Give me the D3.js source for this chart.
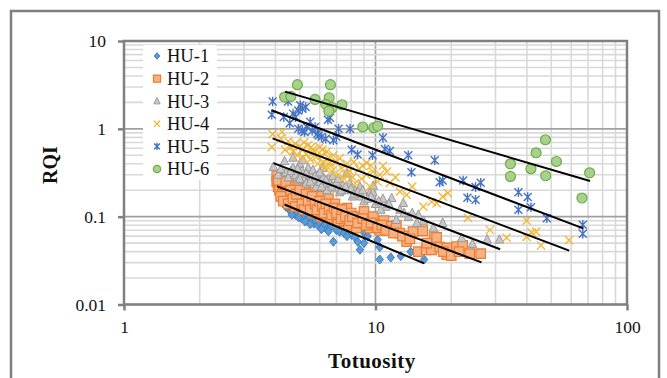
<!DOCTYPE html>
<html><head><meta charset="utf-8">
<script src="https://cdn.jsdelivr.net/npm/d3@7"></script>
<style>body{margin:0;background:#fff}svg{display:block}</style>
</head><body>
<svg id="c" width="667" height="378"></svg>
<script>
const seriesNames = ["HU-1","HU-2","HU-3","HU-4","HU-5","HU-6"];
const hu1 = [[4.35,0.144],[4.4,0.13],[4.5,0.125],[4.6,0.115],[4.7,0.12],[4.8,0.105],[4.9,0.11],[5.0,0.1],[5.1,0.095],[5.2,0.105],[5.3,0.09],[5.4,0.095],[5.57,0.088],[5.7,0.083],[5.8,0.09],[5.9,0.08],[6.0,0.085],[6.18,0.077],[6.3,0.08],[6.4,0.072],[6.6,0.075],[6.8,0.0518],[7.0,0.07],[7.2,0.0675],[7.5,0.065],[8.04,0.062],[8.3,0.058],[8.5,0.0518],[8.67,0.042],[8.94,0.0675],[9.3,0.06],[10.2,0.0545],[10.4,0.045],[10.4,0.0325],[11.5,0.0343],[12.6,0.0356],[13.8,0.0398],[15.6,0.0325],[4.55,0.135],[4.65,0.105],[4.95,0.098],[5.25,0.088],[5.5,0.082],[6.1,0.072],[6.5,0.068],[7.7,0.06],[9.0,0.05]];
const hu2 = [[4.05,0.29],[4.05,0.25],[4.1,0.22],[4.15,0.2],[4.2,0.27],[4.25,0.18],[4.3,0.23],[4.35,0.16],[4.4,0.21],[4.45,0.19],[4.5,0.25],[4.55,0.17],[4.6,0.15],[4.65,0.22],[4.7,0.19],[4.75,0.14],[4.8,0.2],[4.9,0.17],[4.95,0.23],[5.0,0.15],[5.05,0.13],[5.1,0.19],[5.2,0.16],[5.25,0.21],[5.3,0.14],[5.4,0.12],[5.45,0.18],[5.5,0.15],[5.6,0.13],[5.65,0.19],[5.7,0.11],[5.8,0.16],[5.9,0.14],[6.0,0.12],[6.05,0.17],[6.1,0.1],[6.2,0.15],[6.3,0.13],[6.4,0.11],[6.5,0.16],[6.6,0.095],[6.7,0.13],[6.8,0.115],[6.9,0.14],[7.0,0.1],[7.1,0.088],[7.2,0.12],[7.4,0.105],[7.5,0.09],[7.7,0.125],[7.8,0.08],[8.0,0.11],[8.2,0.095],[8.4,0.074],[8.6,0.1],[8.8,0.085],[9.0,0.115],[9.3,0.09],[9.5,0.074],[9.8,0.1],[10.0,0.082],[10.4,0.07],[10.8,0.09],[11.3,0.078],[12.1,0.08],[12.5,0.065],[13.3,0.052],[14.1,0.0675],[14.8,0.04],[15.4,0.069],[15.9,0.042],[16.7,0.042],[17.1,0.059],[17.5,0.058],[18.0,0.045],[19.2,0.044],[19.2,0.037],[21.0,0.0455],[22.2,0.047],[23.7,0.038],[26.2,0.038],[4.1,0.26],[4.2,0.17],[4.3,0.15],[4.4,0.25],[4.5,0.14],[4.6,0.2],[4.7,0.16],[4.8,0.13],[4.85,0.18],[5.0,0.2],[5.1,0.14],[5.2,0.12],[5.3,0.18],[5.4,0.15],[5.5,0.12],[5.6,0.17],[5.75,0.14],[5.85,0.12],[6.0,0.15],[6.15,0.13],[6.25,0.11],[6.35,0.14],[6.55,0.12],[6.7,0.105],[6.85,0.125],[7.0,0.11],[7.3,0.095],[7.35,0.12],[7.6,0.1],[7.9,0.09],[8.1,0.1],[8.5,0.085],[8.9,0.095],[9.2,0.08],[9.6,0.085],[10.2,0.075],[10.6,0.08],[11.0,0.07],[11.8,0.065],[12.8,0.06],[13.7,0.056],[16.0,0.05],[18.6,0.04],[20.0,0.036],[21.5,0.04]];
const hu3 = [[3.93,0.37],[4.1,0.3],[4.35,0.43],[4.4,0.32],[4.5,0.28],[4.7,0.47],[4.7,0.36],[4.8,0.3],[4.9,0.26],[5.0,0.4],[5.1,0.33],[5.15,0.44],[5.2,0.28],[5.3,0.24],[5.4,0.36],[5.5,0.3],[5.64,0.34],[5.7,0.26],[5.8,0.22],[5.9,0.3],[6.0,0.25],[6.18,0.36],[6.2,0.28],[6.3,0.22],[6.4,0.2],[6.5,0.27],[6.6,0.24],[6.77,0.29],[6.9,0.21],[7.0,0.25],[7.2,0.19],[7.4,0.23],[7.68,0.31],[7.7,0.2],[7.9,0.24],[8.1,0.17],[8.3,0.2],[8.67,0.22],[8.8,0.17],[9.0,0.15],[9.51,0.19],[9.77,0.19],[9.8,0.226],[10.0,0.14],[10.7,0.16],[11.0,0.13],[11.6,0.163],[12.1,0.092],[12.9,0.143],[13.5,0.1],[14.6,0.085],[14.8,0.105],[18.5,0.085],[22.0,0.057],[24.3,0.049],[27.8,0.055],[31.1,0.055],[4.2,0.35],[4.6,0.33],[4.9,0.35],[5.0,0.27],[5.3,0.31],[5.5,0.25],[5.75,0.29],[6.0,0.32],[6.1,0.22],[6.35,0.26],[6.7,0.22],[7.1,0.27],[7.3,0.2],[7.6,0.22],[8.0,0.21],[8.2,0.18],[8.5,0.19],[8.9,0.2],[9.3,0.16],[9.6,0.17],[10.3,0.15],[10.5,0.12],[11.3,0.14],[12.5,0.12],[13.0,0.11],[14.0,0.11],[15.5,0.09],[17.0,0.075]];
const hu4 = [[3.9,0.87],[3.87,0.62],[4.25,0.92],[4.2,0.78],[4.37,0.576],[4.5,0.72],[4.7,0.55],[4.8,0.68],[4.9,0.5],[5.01,0.63],[5.1,0.58],[5.2,0.7],[5.3,0.52],[5.4,0.65],[5.5,0.45],[5.64,0.576],[5.7,0.55],[5.8,0.48],[5.9,0.4],[6.0,0.62],[6.1,0.5],[6.2,0.42],[6.3,0.36],[6.4,0.55],[6.59,0.41],[6.6,0.38],[6.7,0.33],[6.8,0.5],[7.0,0.42],[7.1,0.3],[7.3,0.36],[7.5,0.27],[7.7,0.4],[7.9,0.33],[8.1,0.28],[8.3,0.24],[8.6,0.35],[8.9,0.38],[9.22,0.41],[9.2,0.3],[9.5,0.22],[9.77,0.326],[10.2,0.25],[10.7,0.38],[11.1,0.326],[11.4,0.242],[12.5,0.193],[13.3,0.177],[14.0,0.22],[15.5,0.13],[16.7,0.148],[17.5,0.142],[18.5,0.169],[19.4,0.185],[23.3,0.097],[28.5,0.0705],[33.2,0.0576],[39.9,0.09],[39.9,0.059],[41.8,0.0657],[43.5,0.0675],[45.5,0.047],[58.8,0.054],[4.6,0.62],[5.15,0.47],[5.55,0.62],[6.15,0.58],[6.5,0.47],[7.2,0.46],[7.6,0.3],[8.2,0.42],[8.8,0.27],[9.6,0.38],[10.4,0.3],[12.0,0.28]];
const hu5 = [[3.9,2.05],[3.87,1.45],[4.49,2.05],[4.32,1.36],[4.56,1.16],[4.7,1.49],[4.81,1.36],[4.93,1.62],[5.02,1.85],[5.12,1.69],[5.28,1.77],[4.93,1.0],[5.12,0.96],[5.22,0.92],[5.33,1.05],[5.5,1.2],[5.6,0.95],[5.75,1.05],[5.87,0.88],[5.94,0.84],[6.1,0.81],[6.34,0.77],[6.47,1.27],[6.59,1.34],[6.8,0.74],[6.99,0.81],[7.13,1.0],[7.92,1.0],[8.04,0.578],[8.49,0.51],[9.73,0.5],[10.7,0.79],[10.9,0.59],[11.4,0.56],[13.5,0.5],[13.9,0.32],[17.2,0.44],[18.0,0.247],[18.5,0.258],[22.3,0.258],[23.2,0.164],[25.0,0.217],[25.0,0.156],[26.2,0.243],[37.0,0.19],[37.0,0.12],[40.3,0.167],[41.5,0.128],[48.0,0.096],[66.7,0.081],[66.7,0.064]];
const hu6 = [[4.35,2.3],[4.61,2.34],[4.89,3.18],[5.75,2.16],[6.62,3.18],[6.54,2.26],[6.34,1.9],[6.72,1.74],[6.52,1.59],[7.36,1.88],[8.9,1.05],[9.84,1.03],[10.2,1.075],[34.4,0.4],[34.4,0.287],[41.5,0.351],[43.5,0.534],[47.4,0.751],[47.5,0.292],[52.4,0.425],[66.2,0.163],[71.0,0.316]];
const seriesData = [hu1,hu2,hu3,hu4,hu5,hu6];
// trend line endpoints (power-law fits, straight on log-log axes)
const trendX = [[4.35,15.6],[4.06,26.4],[3.93,31.3],[3.9,58.9],[3.86,67.0],[4.37,71.3]];
const trendY = [[0.1377,0.0294],[0.221,0.0302],[0.407,0.0425],[0.78,0.041],[1.63,0.0735],[2.65,0.255]];
const xTickLabels = ["1","10","100"];
const yTickLabels = ["0.01","0.1","1","10"];

const svg = d3.select("#c");
const font = "'Liberation Serif', 'DejaVu Serif', serif";
const L=124, R=627, T=41, B=304.5;
const x = d3.scaleLog().domain([1,100]).range([L,R]);
const y = d3.scaleLog().domain([0.01,10]).range([B,T]);

svg.append("rect").attr("x",11).attr("y",11).attr("width",648).attr("height",380)
  .attr("fill","none").attr("stroke","#7f7f7f").attr("stroke-width",2.5);

const g = svg.append("g");
const isMajor = v => Math.abs(Math.log10(v) - Math.round(Math.log10(v))) < 1e-9;
g.selectAll(".vx").data(x.ticks()).join("line")
  .attr("x1",d=>x(d)).attr("x2",d=>x(d)).attr("y1",T).attr("y2",B)
  .attr("stroke",d=>isMajor(d)?"#a0a0a0":"#d9d9d9").attr("stroke-width",1.6);
g.selectAll(".hy").data(y.ticks()).join("line")
  .attr("y1",d=>y(d)).attr("y2",d=>y(d)).attr("x1",L).attr("x2",R)
  .attr("stroke",d=>isMajor(d)?"#a0a0a0":"#d9d9d9").attr("stroke-width",1.6);

svg.append("rect").attr("x",L).attr("y",T).attr("width",R-L).attr("height",B-T)
  .attr("fill","none").attr("stroke","#808080").attr("stroke-width",2.5);

const xAxis = d3.axisBottom(x).tickValues([1,10,100]).tickFormat((d,i)=>xTickLabels[i]).tickSize(6).tickPadding(10);
const yAxis = d3.axisLeft(y).tickValues([0.01,0.1,1,10]).tickFormat((d,i)=>yTickLabels[i]).tickSize(6).tickPadding(12);
const gx = svg.append("g").attr("transform",`translate(0,${B})`).call(xAxis);
const gy = svg.append("g").attr("transform",`translate(${L},0)`).call(yAxis);
[gx,gy].forEach(a=>{
  a.select(".domain").remove();
  a.selectAll(".tick line").attr("stroke","#808080").attr("stroke-width",2.5);
  a.selectAll(".tick text").attr("font-family",font).attr("font-size",17.5).attr("fill","#111");
});

const starSym = {draw(ctx,size){const r=Math.sqrt(size)/2; ctx.moveTo(-r,-r);ctx.lineTo(r,r);ctx.moveTo(-r,r);ctx.lineTo(r,-r);ctx.moveTo(0,-r*1.2);ctx.lineTo(0,r*1.2);}};
const xSym = {draw(ctx,size){const r=Math.sqrt(size)/2; ctx.moveTo(-r,-r);ctx.lineTo(r,r);ctx.moveTo(-r,r);ctx.lineTo(r,-r);}};
const diamondSym = {draw(ctx,size){const r=Math.sqrt(size)/2; ctx.moveTo(0,-r*1.1);ctx.lineTo(r*0.9,0);ctx.lineTo(0,r*1.1);ctx.lineTo(-r*0.9,0);ctx.closePath();}};
const triSym = {draw(ctx,size){const r=Math.sqrt(size)/2; ctx.moveTo(0,-r*1.15);ctx.lineTo(r,r*0.85);ctx.lineTo(-r,r*0.85);ctx.closePath();}};
const styles = [
  {type:diamondSym, size:68, fill:"#5b9bd5", stroke:"#3f7fc0", sw:1},
  {type:d3.symbolSquare, size:92, fill:"#f4b183", stroke:"#ed7d31", sw:1.2},
  {type:triSym, size:72, fill:"#c8c8c8", stroke:"#9a9a9a", sw:1},
  {type:xSym, size:68, fill:"none", stroke:"#f2b632", sw:1.3},
  {type:starSym, size:64, fill:"none", stroke:"#4472c4", sw:1.4},
  {type:d3.symbolCircle, size:78, fill:"#a9d18e", stroke:"#70ad47", sw:1.2}
];
const sym = d3.symbol();
seriesData.forEach((data,i)=>{
  const s = styles[i];
  svg.append("g").selectAll("path").data(data).join("path")
    .attr("transform",d=>`translate(${x(d[0])},${y(d[1])})`)
    .attr("d",sym.type(s.type).size(s.size)())
    .attr("fill",s.fill).attr("stroke",s.stroke).attr("stroke-width",s.sw);
});

const line = d3.line().x(d=>x(d[0])).y(d=>y(d[1]));
trendX.forEach((tx,i)=>{
  svg.append("path").attr("d",line([[tx[0],trendY[i][0]],[tx[1],trendY[i][1]]]))
    .attr("stroke","#000").attr("stroke-width",2).attr("fill","none");
});

const lg = svg.append("g");
lg.append("rect").attr("x",143).attr("y",45).attr("width",74).attr("height",135).attr("fill","#fff");
seriesNames.forEach((n,i)=>{
  const s = styles[i];
  const cy = 56 + i*22.6;
  lg.append("path").attr("transform",`translate(157,${cy})`)
    .attr("d",sym.type(s.type).size(s.size*0.55)())
    .attr("fill",s.fill).attr("stroke",s.stroke).attr("stroke-width",s.sw);
  lg.append("text").attr("x",167).attr("y",cy).attr("dy","0.35em")
    .attr("font-family",font).attr("font-size",18.5).attr("fill","#111").text(n);
});

svg.append("text").attr("x",372).attr("y",361).attr("dy","0.35em").attr("text-anchor","middle")
  .attr("font-family",font).attr("font-weight","bold").attr("font-size",21).attr("letter-spacing",0.5).attr("fill","#111").text("Totuosity");
svg.append("text").attr("transform","translate(50,165) rotate(-90)").attr("dy","0.35em").attr("text-anchor","middle")
  .attr("font-family",font).attr("font-weight","bold").attr("font-size",20).attr("fill","#111").text("RQI");
</script>
</body></html>
